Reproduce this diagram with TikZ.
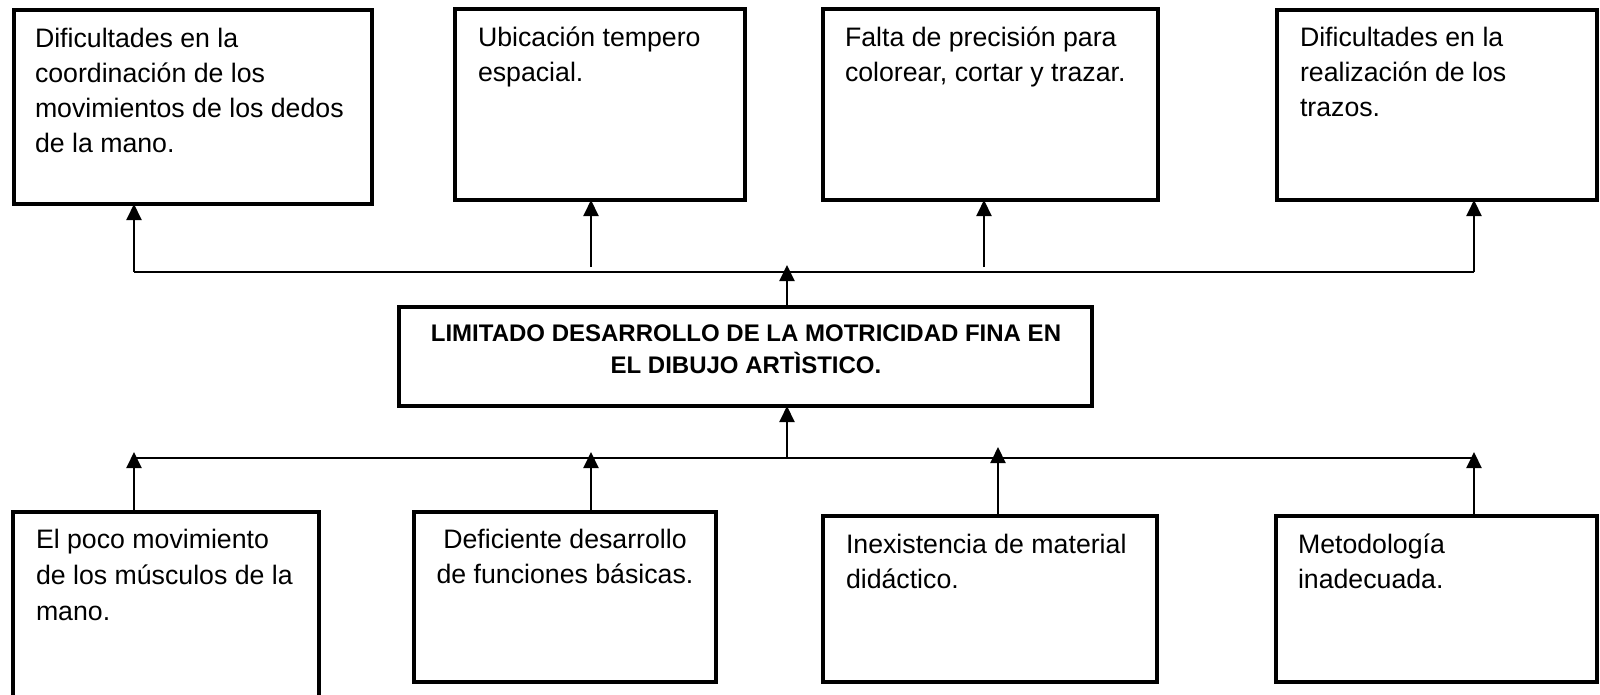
\documentclass[tikz,border=0pt]{standalone}
\usepackage{fontspec}
\setmainfont{Liberation Sans}
\usetikzlibrary{arrows.meta}
\newcommand\myL[1]{\vtop{\halign{##\hfil\cr#1\crcr}}}
\newcommand\myC[1]{\vtop{\halign{\hfil##\hfil\cr#1\crcr}}}
\tikzset{
  box/.style={draw=black, line width=4pt, rectangle, inner sep=0pt, outer sep=0pt},
  txt/.style={inner sep=0pt, outer sep=0pt, anchor=base west, font=\fontsize{26.7}{35}\selectfont},
  ctxt/.style={inner sep=0pt, outer sep=0pt, anchor=base, font=\fontsize{26.7}{35}\selectfont},
  conn/.style={draw=black, line width=2pt},
  arr/.style={conn, -{Triangle[length=16pt,width=15pt]}}
}
\begin{document}
\begin{tikzpicture}[x=1pt,y=-1pt]
\useasboundingbox (0,0) rectangle (1600,695);
\clip (0,0) rectangle (1600,695);
% top boxes
\node[box, minimum width=358pt, minimum height=194pt] (t1) at (193,107) {};
\node[box, minimum width=290pt, minimum height=191pt] (t2) at (600,104.5) {};
\node[box, minimum width=335pt, minimum height=191pt] (t3) at (990.5,104.5) {};
\node[box, minimum width=320pt, minimum height=190pt] (t4) at (1437,105) {};
\node[txt] (t1t) at (35,48) {\myL{Dificultades en la\cr coordinación de los\cr movimientos de los dedos\cr de la mano.}};
\node[txt] (t2t) at (478,47) {\myL{Ubicación tempero\cr espacial.}};
\node[txt] (t3t) at (845,47) {\myL{Falta de precisión para\cr colorear, cortar y trazar.}};
\node[txt] (t4t) at (1300,47) {\myL{Dificultades en la\cr realización de los\cr trazos.}};
% center box
\node[box, minimum width=693pt, minimum height=99pt] (c) at (745.5,356.5) {};
\node[ctxt, font=\fontsize{24}{32}\selectfont\bfseries] (ct) at (746,341) {\myC{LIMITADO DESARROLLO DE LA MOTRICIDAD FINA EN\cr EL DIBUJO ARTÌSTICO.}};
% bottom boxes
\node[box, minimum width=306pt, minimum height=208pt] (b1) at (166,616) {};
\node[box, minimum width=302pt, minimum height=170pt] (b2) at (565,597) {};
\node[box, minimum width=334pt, minimum height=166pt] (b3) at (990,599) {};
\node[box, minimum width=321pt, minimum height=166pt] (b4) at (1436.5,599) {};
\node[txt, font=\fontsize{26.7}{36}\selectfont] (b1t) at (36,548) {\myL{El poco movimiento\cr de los músculos de la\cr mano.}};
\node[ctxt] (b2t) at (565,548) {\myC{Deficiente desarrollo\cr de funciones básicas.}};
\node[txt] (b3t) at (846,553) {\myL{Inexistencia de material\cr didáctico.}};
\node[txt] (b4t) at (1298,553) {\myL{Metodología\cr inadecuada.}};
% top connectors
\coordinate (tl) at (134,272);
\coordinate (tr) at (1474,272);
\coordinate (a2) at (591,267);
\coordinate (a3) at (984,267);
\coordinate (cu) at (787,265);
\draw[conn] (tl) -- (tr);
\draw[arr] (tl) -- (tl |- t1.south);
\draw[arr] (a2) -- (a2 |- t2.south);
\draw[arr] (a3) -- (a3 |- t3.south);
\draw[arr] (tr) -- (tr |- t4.south);
\draw[arr] (cu |- c.north) -- (cu);
% bottom connectors
\coordinate (bl) at (134,458);
\coordinate (br) at (1474,458);
\coordinate (cb) at (787,458);
\coordinate (p1) at (134,452);
\coordinate (p2) at (591,452);
\coordinate (p3) at (998,447);
\coordinate (p4) at (1474,452);
\draw[conn] (bl) -- (br);
\draw[arr] (cb) -- (cb |- c.south);
\draw[arr] (p1 |- b1.north) -- (p1);
\draw[arr] (p2 |- b2.north) -- (p2);
\draw[arr] (p3 |- b3.north) -- (p3);
\draw[arr] (p4 |- b4.north) -- (p4);
\end{tikzpicture}
\end{document}
